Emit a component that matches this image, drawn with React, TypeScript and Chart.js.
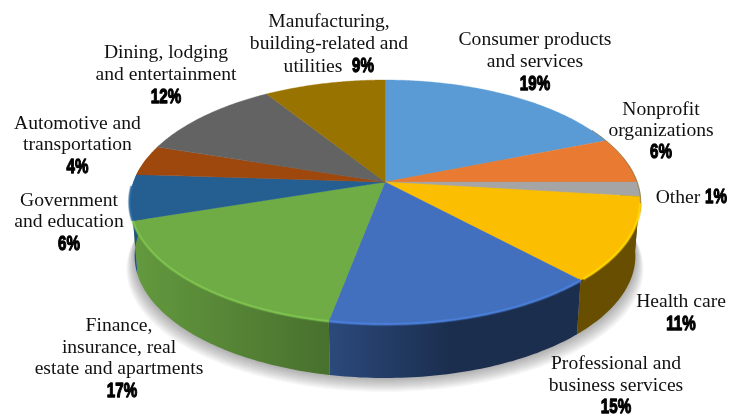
import React, { useEffect, useRef } from "react";
import { Chart, registerables } from "chart.js";

Chart.register(...registerables);

const categories = [
  "Consumer products and services",
  "Nonprofit organizations",
  "Other",
  "Health care",
  "Professional and business services",
  "Finance, insurance, real estate and apartments",
  "Government and education",
  "Automotive and transportation",
  "Dining, lodging and entertainment",
  "Manufacturing, building-related and utilities",
];
// Slice sizes.
const sliceShares = [19, 6, 1.9, 11.1, 15, 17, 6, 4, 11, 9];
// Percentages as printed on the labels.
const printedPercents = ["19%", "6%", "1%", "11%", "15%", "17%", "6%", "4%", "12%", "9%"];
const sliceColors = [
  "#5B9BD5", "#E87B31", "#A5A5A5", "#FBBE00", "#4270BF",
  "#6FAC46", "#255E91", "#9E480E", "#636363", "#997300",
];
const labelLines = [
  ["Consumer products", "and services"],
  ["Nonprofit", "organizations"],
  ["Other"],
  ["Health care"],
  ["Professional and", "business services"],
  ["Finance,", "insurance, real", "estate and apartments"],
  ["Government", "and education"],
  ["Automotive and", "transportation"],
  ["Dining, lodging", "and entertainment"],
  ["Manufacturing,", "building-related and", "utilities"],
];

// Layout only: [centre x, baseline] for text lines and for the percentage.
const lineAnchors: number[][][] = [
  [[535, 45], [535, 67]],
  [[661, 115], [661, 136]],
  [[678, 203]],
  [[681, 307]],
  [[616, 369], [616, 391]],
  [[119, 331], [119, 353], [119, 374]],
  [[69, 206], [69, 227]],
  [[77.5, 129], [77.5, 150]],
  [[166, 58], [166, 80]],
  [[329, 27], [329, 49], [313, 72]],
];
const pctAnchors = [
  [535, 90], [661, 158], [716, 203], [681, 330], [616, 413],
  [122, 397], [69, 250], [77.5, 173], [166, 103], [363, 72],
];

const HUB = { x: 385, y: 182 };
const A = 251.5;
const B = 118.7;
const K = 0.164;
const DEPTH = 54;
const BOTTOM_SCALE = 0.982;

const project = (t: number) => {
  const u = Math.sin(t);
  const v = -Math.cos(t);
  const d = 1 - K * v;
  return { x: HUB.x + (A * u) / d, y: HUB.y + (B * v) / d };
};
const projectBottom = (t: number) => {
  const p = project(t);
  return { x: HUB.x + (p.x - HUB.x) * BOTTOM_SCALE, y: p.y + DEPTH };
};
const rgb = (hex: string) => [1, 3, 5].map((i) => parseInt(hex.slice(i, i + 2), 16));
const scaled = (c: number[], f: number, a = 1) =>
  `rgba(${c.map((n) => Math.min(255, Math.round(n * f))).join(",")},${a})`;

const STEP = Math.PI / 180;

const piePlugin = {
  id: "perspectivePie",
  beforeDatasetsDraw(chart: any) {
    const ctx: CanvasRenderingContext2D = chart.ctx;
    const arcs = chart.getDatasetMeta(0).data.map((el: any, i: number) => ({
      start: el.startAngle + Math.PI / 2,
      end: el.endAngle + Math.PI / 2,
      color: rgb(sliceColors[i]),
    }));

    // ground shadow, built up from stacked translucent layers
    ctx.save();
    ctx.fillStyle = "rgba(0,0,0,0.026)";
    for (let r = 14; r >= 1; r--) {
      ctx.beginPath();
      for (let t = 0; t < Math.PI * 2; t += STEP) {
        const p = projectBottom(t);
        const dx = Math.sin(t) * r * 0.6;
        ctx.lineTo(p.x + dx, p.y + r);
      }
      ctx.closePath();
      ctx.fill();
    }
    ctx.restore();

    // outer wall, one smooth shape per slice, shaded left to right
    const wallStart = (78 * Math.PI) / 180;
    const wallEnd = (282 * Math.PI) / 180;
    for (const arc of arcs) {
      const s = Math.max(arc.start, wallStart);
      const e = Math.min(arc.end, wallEnd);
      if (e <= s) continue;
      const grad = ctx.createLinearGradient(135, 0, 450, 0);
      grad.addColorStop(0, scaled(arc.color, 0.89));
      grad.addColorStop(195 / 315, scaled(arc.color, 0.65));
      grad.addColorStop(1, scaled(arc.color, 0.41));
      ctx.fillStyle = grad;
      ctx.beginPath();
      for (let t = s; t < e; t += STEP) {
        const p = project(t);
        ctx.lineTo(p.x, p.y);
      }
      const pe = project(e);
      ctx.lineTo(pe.x, pe.y);
      const be = projectBottom(e);
      ctx.lineTo(be.x, be.y);
      for (let t = e; t > s; t -= STEP) {
        const p = projectBottom(t);
        ctx.lineTo(p.x, p.y);
      }
      const bs = projectBottom(s);
      ctx.lineTo(bs.x, bs.y);
      ctx.closePath();
      ctx.fill();
    }

    // dark edge behind the right rim
    ctx.save();
    ctx.strokeStyle = "rgba(120,95,30,0.75)";
    ctx.lineWidth = 1.4;
    ctx.beginPath();
    for (let t = (62 * Math.PI) / 180; t < (105 * Math.PI) / 180; t += STEP) {
      const p = project(t);
      ctx.lineTo(p.x + 0.6, p.y + 0.4);
    }
    ctx.stroke();
    ctx.restore();

    // top face
    for (const arc of arcs) {
      const col = scaled(arc.color, 1);
      ctx.fillStyle = col;
      ctx.strokeStyle = col;
      ctx.lineWidth = 0.4;
      ctx.beginPath();
      ctx.moveTo(HUB.x, HUB.y);
      for (let t = arc.start; t < arc.end; t += STEP / 2) {
        const p = project(t);
        ctx.lineTo(p.x, p.y);
      }
      const e = project(arc.end);
      ctx.lineTo(e.x, e.y);
      ctx.closePath();
      ctx.fill();
      ctx.stroke();
    }

    // soft bevel on the front rim
    arcs.forEach((arc: any) => {
      const s = Math.max(arc.start, (100 * Math.PI) / 180);
      const e = Math.min(arc.end, (268 * Math.PI) / 180);
      if (e <= s) return;
      const passes: [number, number, number][] = [
        [4.4, 0.3, 1.0],
        [3.0, 0.55, 1.05],
        [1.8, 0.9, 1.14],
      ];
      for (const [w, alpha, f] of passes) {
        ctx.strokeStyle = scaled(arc.color, f, alpha);
        ctx.lineWidth = w;
        ctx.beginPath();
        for (let t = s; t < e; t += STEP) {
          const p = project(t);
          ctx.lineTo(p.x, p.y);
        }
        ctx.stroke();
      }
    });
    return false;
  },
  afterDraw(chart: any) {
    const ctx: CanvasRenderingContext2D = chart.ctx;
    ctx.save();
    ctx.textAlign = "center";
    ctx.textBaseline = "alphabetic";
    labelLines.forEach((lines, i) => {
      ctx.fillStyle = "#111111";
      ctx.font = '19.6px "Liberation Serif", serif';
      lines.forEach((line, j) => {
        const [x, y] = lineAnchors[i][j];
        ctx.fillText(line, x, y);
      });
      const [px, py] = pctAnchors[i];
      ctx.save();
      ctx.translate(px, py);
      ctx.scale(0.72, 1);
      ctx.font = 'bold 21px "Liberation Sans Narrow", "Liberation Sans", sans-serif';
      ctx.fillStyle = "#000000";
      ctx.strokeStyle = "#000000";
      ctx.lineWidth = 1.3;
      ctx.lineJoin = "round";
      ctx.fillText(printedPercents[i], 0, 0);
      ctx.strokeText(printedPercents[i], 0, 0);
      ctx.restore();
    });
    ctx.restore();
  },
};

export default function App() {
  const ref = useRef<HTMLCanvasElement>(null);
  useEffect(() => {
    document.body.style.margin = "0";
    document.body.style.background = "#ffffff";
    const chart = new Chart(ref.current!, {
      type: "pie",
      data: {
        labels: categories,
        datasets: [{ data: sliceShares, backgroundColor: sliceColors, borderWidth: 0 }],
      },
      options: {
        animation: false,
        responsive: false,
        devicePixelRatio: 1,
        plugins: { legend: { display: false }, tooltip: { enabled: false } },
      },
      plugins: [piePlugin],
    } as any);
    return () => chart.destroy();
  }, []);
  return (
    <div style={{ position: "fixed", left: 0, top: 0, width: 739, height: 416 }}>
      <canvas ref={ref} width={739} height={416} style={{ display: "block" }} />
    </div>
  );
}
